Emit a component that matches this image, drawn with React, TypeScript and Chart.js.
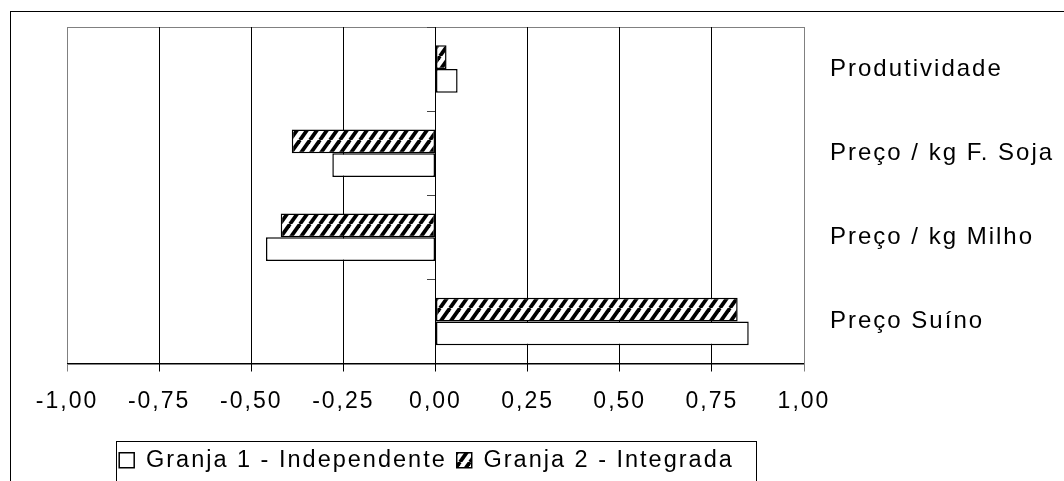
import React, { useEffect, useRef } from 'react';
import { Chart, registerables } from 'chart.js';

Chart.register(...registerables);

// ---- data ----
const categories = ['Produtividade', 'Preço / kg F. Soja', 'Preço / kg Milho', 'Preço Suíno'];
const seriesNames = ['Granja 1 - Independente', 'Granja 2 - Integrada'];
const granja1 = [0.06, -0.28, -0.46, 0.85];
const granja2 = [0.03, -0.39, -0.42, 0.82];
const xMin = -1;
const xMax = 1;
const xStep = 0.25;

const FONT = "'Liberation Sans', Arial, sans-serif";
const SPACING = '2px';

function makeHatch(): CanvasPattern | string {
  const w = 10;
  const h = 14;
  const c = document.createElement('canvas');
  c.width = w;
  c.height = h;
  const g = c.getContext('2d');
  if (!g) return '#888';
  g.fillStyle = '#fff';
  g.fillRect(0, 0, w, h);
  g.strokeStyle = '#000';
  g.lineWidth = 3.8;
  for (let k = -1; k <= 1; k++) {
    g.beginPath();
    g.moveTo(k * w, h);
    g.lineTo(k * w + w, 0);
    g.stroke();
  }
  const p = g.createPattern(c, 'repeat');
  return p || '#888';
}

const decorPlugin = {
  id: 'decor',
  beforeLayout(chart: any) {
    chart.ctx.letterSpacing = SPACING;
  },
  afterLayout(chart: any) {
    const lg = chart.legend;
    if (lg) {
      lg.left -= 9;
      lg.right -= 9;
    }
  },
  beforeDraw(chart: any) {
    const ctx = chart.ctx;
    ctx.letterSpacing = SPACING;
    const { left, top, right, bottom } = chart.chartArea;
    ctx.save();
    ctx.strokeStyle = '#808080';
    ctx.lineWidth = 1;
    ctx.strokeRect(Math.round(left) + 0.5, Math.round(top) + 0.5, Math.round(right - left), Math.round(bottom - top));
    ctx.restore();
  },
  afterDraw(chart: any) {
    const lg = chart.legend;
    if (!lg || !lg.legendHitBoxes || !lg.legendHitBoxes.length) return;
    const boxes = lg.legendHitBoxes;
    const l = Math.min(...boxes.map((b: any) => b.left)) - 3;
    const r = Math.max(...boxes.map((b: any) => b.left + b.width)) + 22;
    const t = boxes[0].top - 8;
    const ctx = chart.ctx;
    ctx.save();
    ctx.strokeStyle = '#000';
    ctx.lineWidth = 1;
    ctx.strokeRect(Math.round(l) + 0.5, Math.round(t) + 0.5, Math.round(r - l), chart.height);
    ctx.restore();
  },
};

export default function App() {
  const ref = useRef<HTMLCanvasElement | null>(null);

  useEffect(() => {
    if (!ref.current) return;
    const hatch = makeHatch();
    const chart = new Chart(ref.current, {
      type: 'bar',
      data: {
        labels: categories,
        datasets: [
          {
            label: seriesNames[1],
            data: granja2,
            backgroundColor: hatch as any,
            borderColor: '#000',
            borderWidth: 1.5,
            borderSkipped: false,
            barPercentage: 1,
            categoryPercentage: 0.565,
            yAxisID: 'y',
          },
          {
            label: seriesNames[0],
            data: granja1,
            backgroundColor: '#fff',
            borderColor: '#000',
            borderWidth: 1.5,
            borderSkipped: false,
            barPercentage: 1,
            categoryPercentage: 0.565,
            yAxisID: 'y',
          },
        ],
      },
      options: {
        indexAxis: 'y',
        responsive: false,
        animation: false,
        devicePixelRatio: 1,
        layout: { padding: { left: 67, top: 27, right: 0, bottom: 18 } },
        scales: {
          x: {
            type: 'linear',
            min: xMin,
            max: xMax,
            ticks: {
              stepSize: xStep,
              autoSkip: false,
              maxRotation: 0,
              padding: 16,
              color: '#000',
              font: { family: FONT, size: 23 },
              callback: (v: any) => Number(v).toFixed(2).replace('.', ','),
            },
            grid: {
              tickLength: 8,
              lineWidth: 1,
              color: (c: any) => (c.tick && Math.abs(c.tick.value) === 1 ? '#808080' : '#000'),
            },
            border: { color: '#000' },
            afterFit: (s: any) => {
              s.height = 75;
            },
          },
          y: {
            type: 'category',
            position: { x: 0 } as any,
            offset: true,
            grid: { offset: true, drawOnChartArea: false, tickLength: 8, color: '#444' },
            ticks: { display: false },
            border: { color: '#000' },
          },
          y2: {
            type: 'category',
            position: 'right',
            offset: true,
            grid: { display: false, drawTicks: false },
            border: { display: true, color: '#808080' },
            ticks: { color: '#000', font: { family: FONT, size: 24 }, padding: 26 },
            afterFit: (s: any) => {
              s.width = 260;
              s.paddingTop = 0;
              s.paddingBottom = 0;
            },
          },
        },
        plugins: {
          legend: {
            position: 'bottom',
            fullSize: false,
            reverse: true,
            labels: {
              boxWidth: 15,
              boxHeight: 15,
              padding: 10,
              color: '#000',
              font: { family: FONT, size: 23.5 },
            },
          },
          tooltip: { enabled: false },
        },
      } as any,
      plugins: [decorPlugin],
    });
    return () => chart.destroy();
  }, []);

  return (
    <div style={{ position: 'relative', width: 1064, height: 500, overflow: 'hidden', background: '#fff' }}>
      <style>{'html,body{margin:0;padding:0;overflow:hidden;background:#fff}'}</style>
      <div
        style={{
          position: 'absolute',
          left: 10,
          top: 11,
          width: 2000,
          height: 2000,
          borderLeft: '1px solid #000',
          borderTop: '1px solid #000',
        }}
      />
      <canvas
        ref={ref}
        width={1064}
        height={500}
        style={{ position: 'absolute', left: 0, top: 0, width: 1064, height: 500, display: 'block' }}
      />
    </div>
  );
}
